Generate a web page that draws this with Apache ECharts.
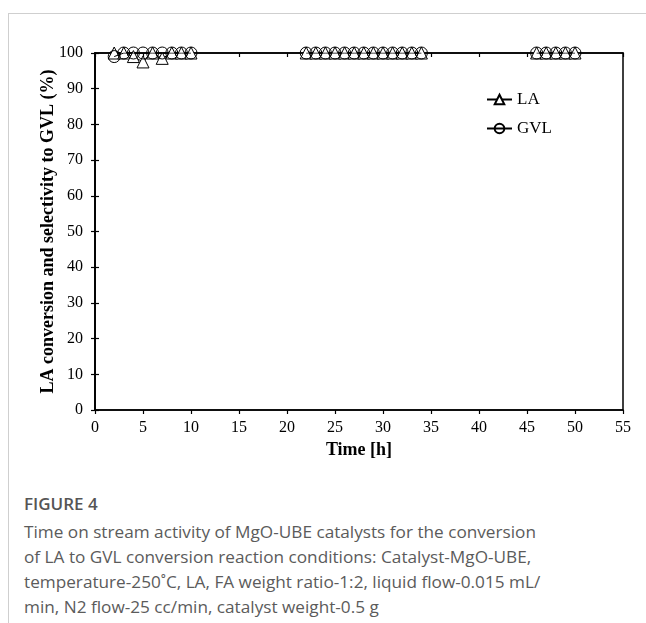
<!DOCTYPE html>
<html>
<head>
<meta charset="utf-8">
<script src="https://cdn.jsdelivr.net/npm/echarts@6/dist/echarts.min.js"></script>
<style>
  html, body { margin: 0; padding: 0; background: #fff; width: 646px; height: 623px; overflow: hidden; }
  #frame { position: absolute; left: 8px; top: 13px; width: 640px; height: 620px; border-left: 1px solid #cfcfcf; border-top: 1px solid #cfcfcf; }
  #chart { position: absolute; left: 0; top: 0; width: 646px; height: 480px; }
  #caption { position: absolute; left: 24px; top: 492px; font-family: "Open Sans", "Noto Sans", sans-serif; color: #5b5b5b; }
  #caption .head { font-size: 17px; font-weight: 600; color: #555; line-height: 24px; margin-bottom: 3px; }
  #caption .line { font-size: 17.2px; line-height: 25px; white-space: nowrap; }
</style>
</head>
<body>
<div id="frame"></div>
<div id="chart"></div>
<div id="caption">
  <div class="head">FIGURE 4</div>
  <div class="line">Time on stream activity of MgO-UBE catalysts for the conversion</div>
  <div class="line">of LA to GVL conversion reaction conditions: Catalyst-MgO-UBE,</div>
  <div class="line">temperature-250˚C, LA, FA weight ratio-1:2, liquid flow-0.015 mL/</div>
  <div class="line">min, N2 flow-25 cc/min, catalyst weight-0.5 g</div>
</div>
<script>
// Data (time on stream segments)
const hours = [2, 3, 4, 5, 6, 7, 8, 9, 10, null, 22, 23, 24, 25, 26, 27, 28, 29, 30, 31, 32, 33, 34, null, 46, 47, 48, 49, 50];
const laConversion = [100, 100, 99, 97.5, 100, 98.5, 100, 100, 100, null, 100, 100, 100, 100, 100, 100, 100, 100, 100, 100, 100, 100, 100, null, 100, 100, 100, 100, 100];
const gvlSelectivity = [99, 100, 100, 100, 100, 100, 100, 100, 100, null, 100, 100, 100, 100, 100, 100, 100, 100, 100, 100, 100, 100, 100, null, 100, 100, 100, 100, 100];
const xTicks = [0, 5, 10, 15, 20, 25, 30, 35, 40, 45, 50, 55];
const yTicks = [0, 10, 20, 30, 40, 50, 60, 70, 80, 90, 100];

const pairs = (ys) => hours.map((h, i) => (h === null ? [null, null] : [h, ys[i]]));

const serif = '"Liberation Serif", "DejaVu Serif", serif';
const chart = echarts.init(document.getElementById('chart'));

const baseX = {
  type: 'value', min: xTicks[0], max: xTicks[xTicks.length - 1], interval: 5,
  splitLine: { show: false },
  axisLine: { show: true, onZero: false, lineStyle: { color: '#000', width: 1.5 } }
};
const baseY = {
  type: 'value', min: yTicks[0], max: yTicks[yTicks.length - 1], interval: 10,
  splitLine: { show: false },
  axisLine: { show: true, onZero: false, lineStyle: { color: '#000', width: 1.5 } }
};

chart.setOption({
  animation: false,
  grid: { left: 95, right: 23, top: 53, bottom: 70, show: true, borderColor: '#000', borderWidth: 1.5, backgroundColor: 'transparent' },
  legend: {
    orient: 'vertical', left: 481, top: 86, itemGap: 12, itemWidth: 25, itemHeight: 12,
    textStyle: { fontFamily: serif, fontSize: 17, color: '#000' },
    data: ['LA', 'GVL']
  },
  xAxis: [
    Object.assign({}, baseX, {
      name: 'Time [h]', nameLocation: 'middle', nameGap: 31,
      nameTextStyle: { fontFamily: serif, fontSize: 18, fontWeight: 'bold', color: '#000' },
      axisTick: { show: true, inside: false, length: 4, lineStyle: { color: '#000', width: 1.2 } },
      axisLabel: { fontFamily: serif, fontSize: 16, color: '#000', margin: 10 }
    }),
    Object.assign({}, baseX, {
      axisTick: { show: true, inside: true, length: 4, lineStyle: { color: '#000', width: 1.2 } },
      axisLabel: { show: false }
    })
  ],
  yAxis: [
    Object.assign({}, baseY, {
      name: 'LA conversion and selectivity to GVL (%)', nameLocation: 'middle', nameGap: 38,
      nameMoveOverlap: false,
      nameTextStyle: { fontFamily: serif, fontSize: 18, fontWeight: 'bold', color: '#000' },
      axisTick: { show: true, inside: false, length: 4, lineStyle: { color: '#000', width: 1.2 } },
      axisLabel: { fontFamily: serif, fontSize: 16, color: '#000', margin: 12 }
    }),
    Object.assign({}, baseY, {
      position: 'left',
      axisTick: { show: true, inside: true, length: 4, lineStyle: { color: '#000', width: 1.2 } },
      axisLabel: { show: false }
    })
  ],
  series: [
    {
      name: 'LA', type: 'line', xAxisIndex: 0, yAxisIndex: 0,
      data: pairs(laConversion), connectNulls: false,
      symbol: 'triangle', symbolSize: 12, showSymbol: true,
      itemStyle: { color: '#fff', borderColor: '#000', borderWidth: 1 },
      lineStyle: { color: '#000', width: 1 }, z: 3
    },
    {
      name: 'GVL', type: 'line', xAxisIndex: 0, yAxisIndex: 0,
      data: pairs(gvlSelectivity), connectNulls: false,
      symbol: 'circle', symbolSize: 12, showSymbol: true,
      itemStyle: { color: 'transparent', borderColor: '#000', borderWidth: 1 },
      lineStyle: { color: '#000', width: 1 }, z: 4
    }
  ]
});
</script>
</body>
</html>
